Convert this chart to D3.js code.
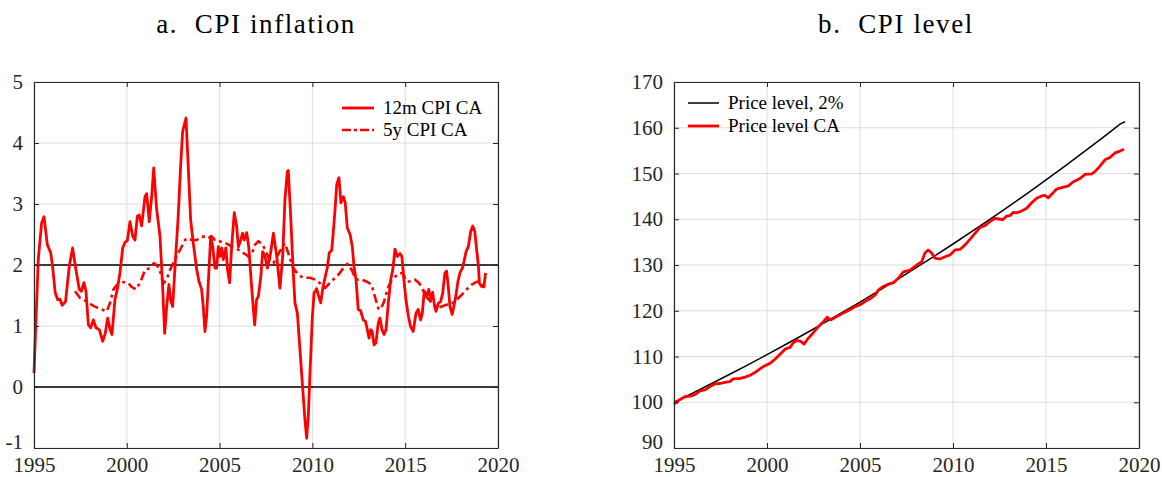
<!DOCTYPE html>
<html><head><meta charset="utf-8">
<script src="https://cdn.jsdelivr.net/npm/d3@7"></script>
<style>body{margin:0;background:#fff}svg{display:block}text{font-family:"Liberation Serif","Times New Roman",serif;fill:#262626}</style>
</head><body><svg id="c" width="1162" height="477"></svg>
<script>
// ---------- data ----------
const xTicks = [1995, 2000, 2005, 2010, 2015, 2020];
const yTicksLeft = [-1, 0, 1, 2, 3, 4, 5];
const yTicksRight = [90, 100, 110, 120, 130, 140, 150, 160, 170];
const refLines = [0, 2];
const titles = ["a.  CPI inflation", "b.  CPI level"];
const legendLeft = ["12m CPI CA", "5y CPI CA"];
const legendRight = ["Price level, 2%", "Price level CA"];

const cpi12Years = [1995.0,1995.23,1995.41,1995.54,1995.72,1995.9,1996.0,1996.14,1996.28,1996.4,1996.52,1996.7,1996.9,1997.08,1997.26,1997.44,1997.55,1997.69,1997.8,1997.93,1998.05,1998.2,1998.34,1998.52,1998.7,1998.84,1998.97,1999.1,1999.2,1999.36,1999.49,1999.63,1999.78,1999.9,2000.03,2000.17,2000.32,2000.44,2000.57,2000.67,2000.8,2000.98,2001.07,2001.21,2001.34,2001.45,2001.61,2001.79,2001.93,2002.04,2002.15,2002.27,2002.36,2002.47,2002.6,2002.77,2002.9,2003.01,2003.19,2003.31,2003.44,2003.58,2003.77,2003.89,2004.03,2004.12,2004.21,2004.3,2004.39,2004.52,2004.63,2004.75,2004.84,2004.93,2005.02,2005.11,2005.2,2005.34,2005.43,2005.54,2005.65,2005.79,2005.92,2006.01,2006.14,2006.24,2006.33,2006.46,2006.57,2006.67,2006.78,2006.89,2006.99,2007.09,2007.22,2007.32,2007.45,2007.57,2007.72,2007.9,2008.08,2008.25,2008.4,2008.52,2008.65,2008.7,2008.83,2008.97,2009.06,2009.19,2009.33,2009.48,2009.6,2009.69,2009.78,2009.87,2010.0,2010.09,2010.23,2010.34,2010.45,2010.55,2010.68,2010.8,2010.91,2011.04,2011.12,2011.22,2011.31,2011.43,2011.54,2011.67,2011.77,2011.88,2012.03,2012.15,2012.24,2012.35,2012.47,2012.6,2012.74,2012.86,2012.96,2013.05,2013.14,2013.22,2013.32,2013.42,2013.55,2013.64,2013.75,2013.86,2013.97,2014.09,2014.22,2014.33,2014.45,2014.57,2014.72,2014.82,2014.93,2015.04,2015.17,2015.29,2015.43,2015.58,2015.7,2015.83,2015.92,2016.03,2016.16,2016.27,2016.37,2016.48,2016.57,2016.66,2016.78,2016.91,2017.02,2017.14,2017.23,2017.32,2017.41,2017.53,2017.62,2017.73,2017.84,2017.95,2018.08,2018.17,2018.28,2018.4,2018.53,2018.64,2018.75,2018.85,2018.94,2019.0,2019.11,2019.24,2019.33];
const cpi12Values = [0.23,2.09,2.69,2.79,2.33,2.2,1.98,1.55,1.43,1.44,1.34,1.40,1.98,2.28,1.92,1.60,1.57,1.71,1.57,1.02,0.97,1.10,0.97,0.94,0.75,0.88,1.13,0.94,0.86,1.43,1.6,1.87,2.28,2.37,2.40,2.71,2.47,2.41,2.80,2.82,2.64,3.12,3.17,2.71,3.12,3.59,2.91,2.47,1.65,0.88,1.32,1.68,1.43,1.32,1.98,2.80,3.62,4.19,4.41,3.62,2.74,2.36,1.92,1.73,1.60,1.32,0.91,1.16,1.70,2.47,2.30,1.95,1.95,2.30,2.14,2.28,2.09,2.28,1.92,1.71,2.30,2.86,2.63,2.30,2.41,2.52,2.41,2.53,2.30,1.87,1.43,1.02,1.43,1.49,1.81,2.22,2.14,1.95,2.14,2.52,2.14,1.62,2.14,3.07,3.53,3.55,2.80,1.87,1.38,1.21,0.61,-0.04,-0.54,-0.84,-0.48,0.23,1.16,1.54,1.61,1.49,1.38,1.60,1.79,1.95,2.20,2.24,2.52,2.91,3.32,3.43,3.02,3.12,3.02,2.61,2.50,2.30,1.98,1.76,1.27,1.25,1.10,1.08,0.94,0.80,0.94,0.91,0.69,0.72,1.05,1.13,0.94,0.86,0.94,1.38,1.76,1.92,2.26,2.14,2.19,2.14,1.76,1.43,1.16,0.99,0.91,1.21,1.27,1.10,1.21,1.57,1.49,1.60,1.43,1.55,1.35,1.24,1.37,1.40,1.54,1.87,1.90,1.65,1.32,1.19,1.32,1.49,1.73,1.87,1.95,2.06,2.22,2.30,2.55,2.64,2.55,2.25,2.00,1.70,1.65,1.64,1.87];

const cpi5Years = [1997.21,1997.48,1997.84,1998.2,1998.56,1998.92,1999.1,1999.28,1999.49,1999.81,2000.07,2000.26,2000.5,2000.75,2000.98,2001.25,2001.45,2001.61,2001.79,2001.97,2002.15,2002.33,2002.6,2002.87,2003.14,2003.31,2003.49,2003.77,2004.03,2004.21,2004.39,2004.57,2004.75,2004.93,2005.11,2005.38,2005.65,2005.88,2006.14,2006.37,2006.55,2006.73,2006.9,2007.09,2007.32,2007.5,2007.68,2007.9,2008.2,2008.52,2008.97,2009.24,2009.52,2009.87,2010.14,2010.41,2010.68,2010.86,2011.12,2011.4,2011.67,2011.88,2012.12,2012.35,2012.66,2012.91,2013.18,2013.36,2013.55,2013.67,2013.86,2014.04,2014.22,2014.4,2014.63,2014.86,2015.08,2015.3,2015.53,2015.76,2015.98,2016.19,2016.43,2016.7,2016.97,2017.23,2017.5,2017.77,2018.04,2018.31,2018.58,2018.82,2018.94,2019.03,2019.24];
const cpi5Values = [1.57,1.46,1.40,1.33,1.28,1.24,1.38,1.60,1.68,1.72,1.71,1.64,1.60,1.73,1.92,1.95,2.03,2.00,1.90,1.70,1.76,1.92,2.09,2.25,2.41,2.44,2.41,2.41,2.46,2.47,2.44,2.47,2.41,2.41,2.37,2.35,2.30,2.28,2.22,2.18,2.14,2.17,2.33,2.39,2.33,2.22,2.09,2.03,2.2,2.36,1.95,1.84,1.79,1.79,1.76,1.70,1.62,1.68,1.76,1.84,1.95,2.02,1.92,1.76,1.76,1.73,1.68,1.49,1.29,1.27,1.40,1.60,1.73,1.79,1.86,1.87,1.73,1.73,1.76,1.70,1.57,1.46,1.38,1.29,1.32,1.35,1.36,1.43,1.51,1.60,1.68,1.72,1.73,1.68,1.66];

const target2Years = [1995,1996,1997,1998,1999,2000,2001,2002,2003,2004,2005,2006,2007,2008,2009,2010,2011,2012,2013,2014,2015,2016,2017,2018,2019,2019.25];
const target2Values = [100,102,104.04,106.12,108.24,110.41,112.62,114.87,117.17,119.51,121.9,124.34,126.82,129.36,131.95,134.59,137.28,140.02,142.82,145.68,148.59,151.57,154.6,157.69,160.85,161.3];

const caLevelYears = [1995.0,1995.32,1995.59,1995.95,1996.18,1996.4,1996.67,1996.9,1997.17,1997.47,1997.8,1998.0,1998.19,1998.55,1998.82,1999.09,1999.35,1999.62,1999.89,2000.16,2000.43,2000.7,2000.97,2001.24,2001.41,2001.6,2001.82,2001.99,2002.22,2002.49,2002.76,2003.03,2003.24,2003.42,2003.66,2003.92,2004.19,2004.46,2004.73,2005.0,2005.27,2005.54,2005.81,2005.98,2006.25,2006.52,2006.79,2007.06,2007.33,2007.69,2008.05,2008.32,2008.49,2008.67,2008.85,2009.03,2009.3,2009.57,2009.84,2010.11,2010.38,2010.65,2010.91,2011.18,2011.45,2011.72,2011.99,2012.26,2012.53,2012.67,2012.89,2013.07,2013.24,2013.42,2013.69,2013.96,2014.23,2014.5,2014.77,2014.94,2015.12,2015.36,2015.57,2015.84,2016.2,2016.47,2016.83,2017.1,2017.46,2017.63,2017.9,2018.17,2018.44,2018.71,2018.98,2019.19];
const caLevelValues = [99.6,100.6,101.2,101.4,101.8,102.5,102.7,103.3,104.0,104.1,104.4,104.5,105.1,105.2,105.5,105.9,106.5,107.3,108.0,108.5,109.4,110.5,111.6,112.0,113.0,113.5,113.3,112.7,114.0,115.2,116.5,117.6,118.6,118.0,118.5,119.1,119.7,120.2,120.9,121.3,122.0,122.6,123.4,124.5,125.3,125.8,126.1,127.1,128.5,128.9,130.0,130.7,132.6,133.3,132.6,131.5,131.3,131.8,132.2,133.3,133.4,134.4,135.6,136.9,138.2,138.6,139.5,140.2,140.0,139.9,140.7,140.8,141.5,141.4,141.8,142.4,143.6,144.6,145.1,145.2,144.7,145.7,146.6,146.9,147.3,148.2,148.9,149.8,149.9,150.4,151.6,153.0,153.5,154.5,154.9,155.3];

// ---------- drawing ----------
const svg = d3.select("#c");
const RED = "#ff0000", AX = "#262626", GRID = "#dedede";
const yTop = 82, yBot = 448;

function panel(x0, x1, yDomain, yTicks, title, titleX) {
  const x = d3.scaleLinear().domain([1995, 2020]).range([x0, x1]);
  const y = d3.scaleLinear().domain(yDomain).range([yBot, yTop]);
  const g = svg.append("g");
  g.selectAll(".gx").data(xTicks).join("line")
    .attr("x1", d => x(d)).attr("x2", d => x(d)).attr("y1", yTop).attr("y2", yBot)
    .attr("stroke", GRID).attr("stroke-width", 1);
  g.selectAll(".gy").data(yTicks).join("line")
    .attr("x1", x0).attr("x2", x1).attr("y1", d => y(d)).attr("y2", d => y(d))
    .attr("stroke", GRID).attr("stroke-width", 1);
  svg.append("text").attr("x", titleX).attr("y", 33).attr("text-anchor", "middle")
    .style("font-size", "27px").style("letter-spacing", "1.6px").style("white-space", "pre")
    .style("fill", "#000").text(title);
  return {x, y, g, x0, x1};
}

function frame(p, yTicks) {
  const {x, y, g, x0, x1} = p;
  const ax = g.append("g");
  const bAxis = d3.axisBottom(x).tickValues(xTicks).tickFormat(d => String(d)).tickSizeInner(-5).tickSizeOuter(0);
  const bg = ax.append("g").attr("transform", `translate(0,${yBot})`).call(bAxis);
  const tAxis = d3.axisTop(x).tickValues(xTicks).tickFormat("").tickSizeInner(-5).tickSizeOuter(0);
  ax.append("g").attr("transform", `translate(0,${yTop})`).call(tAxis);
  const lAxis = d3.axisLeft(y).tickValues(yTicks).tickFormat(d => String(d)).tickSizeInner(-5).tickSizeOuter(0).tickPadding(11);
  const lg = ax.append("g").attr("transform", `translate(${x0},0)`).call(lAxis);
  const rAxis = d3.axisRight(y).tickValues(yTicks).tickFormat("").tickSizeInner(-5).tickSizeOuter(0);
  ax.append("g").attr("transform", `translate(${x1},0)`).call(rAxis);
  ax.selectAll(".domain").attr("stroke", AX).attr("stroke-width", 1.2);
  ax.selectAll(".tick line").attr("stroke", AX).attr("stroke-width", 1);
  ax.selectAll("text").style("font-size", "21px").style("font-family", '"Liberation Serif",serif').attr("fill", AX);
  bg.selectAll("text").attr("dy", "0.71em").attr("y", 9);
  // lift the lowest y label slightly so it clears the first x label
  lg.selectAll(".tick").filter(d => d === yTicks[0]).select("text").attr("dy", "0.02em");
}

const L = panel(34, 498, [-1, 5], yTicksLeft, titles[0], 256);
const R = panel(674, 1139, [90, 170], yTicksRight, titles[1], 896);

L.g.selectAll(".ref").data(refLines).join("line")
  .attr("x1", L.x0).attr("x2", L.x1).attr("y1", d => L.y(d)).attr("y2", d => L.y(d))
  .attr("stroke", "#000").attr("stroke-width", 1.5);

function series(p, xs, ys, color, width, dash) {
  const line = d3.line().x((d, i) => p.x(xs[i])).y(d => p.y(d));
  const path = p.g.append("path").datum(ys).attr("d", line)
    .attr("fill", "none").attr("stroke", color).attr("stroke-width", width)
    .attr("stroke-linejoin", "round");
  if (dash) path.attr("stroke-dasharray", dash);
}
series(L, cpi5Years, cpi5Values, RED, 2.6, "9,4,3,4");
series(L, cpi12Years, cpi12Values, RED, 2.8, null);
series(R, target2Years, target2Values, "#000", 1.5, null);
series(R, caLevelYears, caLevelValues, RED, 2.8, null);

frame(L, yTicksLeft);
frame(R, yTicksRight);

function legend(items, styles, lx0, lx1, tx, ys) {
  items.forEach((t, i) => {
    const s = styles[i];
    const ln = svg.append("line").attr("x1", lx0).attr("x2", lx1).attr("y1", ys[i]).attr("y2", ys[i])
      .attr("stroke", s.color).attr("stroke-width", s.width);
    if (s.dash) ln.attr("stroke-dasharray", s.dash);
    svg.append("text").attr("x", tx).attr("y", ys[i] + 6).style("font-size", "19px").style("fill", "#000").text(t);
  });
}
legend(legendLeft, [{color: RED, width: 2.8}, {color: RED, width: 2.6, dash: "9,3,3,3"}], 342, 374, 383, [108, 130]);
legend(legendRight, [{color: "#000", width: 1.5}, {color: RED, width: 2.8}], 688, 719, 728, [103, 126]);
</script></body></html>
